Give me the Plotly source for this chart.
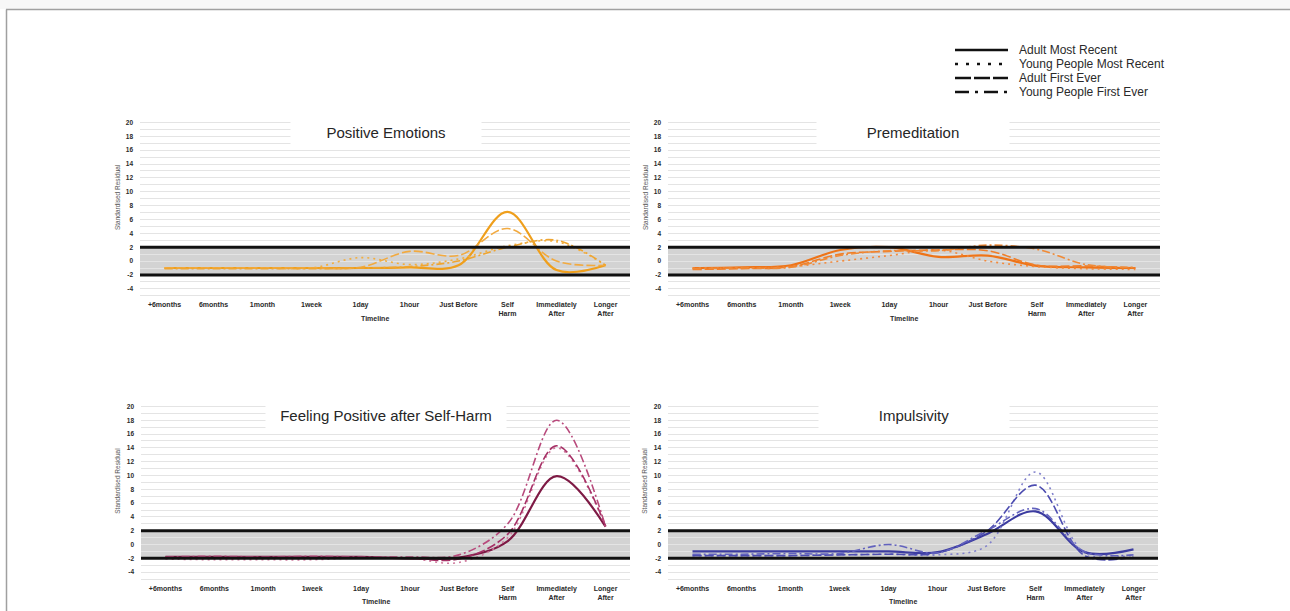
import plotly.graph_objects as go

W, H = 1290, 611

# ---------------- data ----------------
categories = ["+6months", "6months", "1month", "1week", "1day", "1hour",
              "Just Before", "Self<br>Harm", "Immediately<br>After", "Longer<br>After"]
series_names = ["Adult Most Recent", "Young People Most Recent",
                "Adult First Ever", "Young People First Ever"]

y_tick_vals = [-4, -2, 0, 2, 4, 6, 8, 10, 12, 14, 16, 18, 20]
y_tick_text = ["-4", "-2", "0", "2", "4", "6", "8", "10", "12", "14", "16", "18", "20"]

panel_titles = ["Positive Emotions", "Premeditation",
                "Feeling Positive after Self-Harm", "Impulsivity"]

# Positive Emotions
pe_adult_recent = [-1.0, -1.0, -1.0, -1.0, -1.0, -0.9, -0.6, 7.1, -1.3, -0.6]
pe_young_recent = [-1.0, -1.0, -1.0, -1.0, 0.5, -0.5, 0.3, 2.2, 2.8, -0.6]
pe_adult_first = [-1.0, -1.0, -1.0, -1.0, -0.9, 1.4, 0.8, 4.7, 0.0, -0.6]
pe_young_first = [-1.1, -1.1, -1.1, -1.1, -1.0, -0.8, 0.0, 2.0, 3.0, -0.6]

# Premeditation
pm_adult_recent = [-1.0, -0.9, -0.6, 1.6, 2.0, 0.6, 0.8, -0.7, -0.9, -1.0]
pm_young_recent = [-1.0, -1.0, -0.8, 0.0, 0.8, 1.6, 0.0, -0.8, -1.1, -1.2]
pm_adult_first = [-1.2, -1.1, -0.8, 1.0, 1.4, 1.6, 1.5, -0.6, -0.7, -1.0]
pm_young_first = [-1.1, -1.0, -0.9, 0.8, 1.5, 1.5, 2.3, 1.7, -0.5, -0.9]

# Feeling Positive after Self-Harm
fp_adult_recent = [-1.8, -1.8, -1.8, -1.8, -1.8, -2.0, -1.9, 0.5, 9.9, 2.6]
fp_young_recent = [-2.1, -2.2, -2.2, -2.2, -1.9, -2.0, -2.6, 1.0, 14.0, 2.6]
fp_adult_first = [-1.9, -1.8, -1.8, -1.8, -1.9, -2.0, -2.1, 1.5, 14.3, 2.7]
fp_young_first = [-1.8, -1.7, -1.8, -1.7, -1.8, -1.8, -1.5, 3.0, 18.0, 2.6]

# Impulsivity
im_adult_recent = [-1.0, -1.0, -1.0, -1.0, -1.0, -1.1, 1.5, 4.8, -1.1, -0.7]
im_young_recent = [-1.6, -1.6, -1.6, -1.5, -1.4, -1.5, -0.2, 10.5, -1.2, -1.5]
im_adult_first = [-1.6, -1.6, -1.6, -1.5, -1.4, -1.2, 1.9, 8.6, -1.6, -1.8]
im_young_first = [-1.4, -1.4, -1.3, -1.3, 0.0, -1.2, 2.0, 5.2, -1.0, -1.5]

panel_data = [
    [pe_adult_recent, pe_young_recent, pe_adult_first, pe_young_first],
    [pm_adult_recent, pm_young_recent, pm_adult_first, pm_young_first],
    [fp_adult_recent, fp_young_recent, fp_adult_first, fp_young_first],
    [im_adult_recent, im_young_recent, im_adult_first, im_young_first],
]

# ---------------- styling ----------------
panel_colors = [
    ["#EF9F1C", "#F3AE3E", "#F2AA40", "#EFA530"],
    ["#EE7418", "#F28A3C", "#F07E28", "#F08A36"],
    ["#7E1A45", "#D07A9E", "#A63066", "#B84A7C"],
    ["#3C3CA0", "#8080CC", "#4C4CB0", "#6262BE"],
]
dashes = ["solid", "2px,4px", "9px,3px", "8px,3px,2px,3px"]
widths = [2.2, 1.6, 1.6, 1.6]

def px_x(p):
    return p / W

def px_y(p):
    return 1 - p / H

# panel geometry in pixels: (left, right, top, bottom)
panels_px = [
    (140, 630, 119.0, 299.2),
    (668, 1160, 119.0, 299.2),
    (141, 630, 403.0, 582.5),
    (668, 1158, 403.0, 582.5),
]
title_boxes = [  # (center x, center y, width, height)
    (386, 132, 188, 30),
    (913, 132, 190, 30),
    (386, 415, 238, 30),
    (914, 415, 188, 30),
]
y_range = [-5.5, 20.5]

fig = go.Figure()
layout_axes = {}
shapes = []
annotations = []

for i in range(4):
    l, r, t, b = panels_px[i]
    xa = "x" if i == 0 else f"x{i+1}"
    ya = "y" if i == 0 else f"y{i+1}"
    xkey = "xaxis" if i == 0 else f"xaxis{i+1}"
    ykey = "yaxis" if i == 0 else f"yaxis{i+1}"
    layout_axes[xkey] = dict(
        domain=[px_x(l), px_x(r)], anchor=ya, range=[-0.5, 9.5],
        tickmode="array", tickvals=list(range(len(categories))), ticktext=categories,
        showgrid=False, zeroline=False, showline=False, ticks="",
        tickfont=dict(family="Liberation Sans", size=7, color="#2a2a2a", weight="bold"),
        ticklabelstandoff=0, fixedrange=True,
    )
    layout_axes[ykey] = dict(
        domain=[px_y(b), px_y(t)], anchor=xa, range=y_range,
        tickmode="array", tickvals=y_tick_vals, ticktext=y_tick_text,
        showgrid=True, gridcolor="#e4e4e4", gridwidth=1,
        minor=dict(dtick=1, tick0=0, showgrid=True, gridcolor="#e4e4e4", gridwidth=1),
        zeroline=False, showline=False, ticks="",
        tickfont=dict(family="Liberation Sans", size=6.5, color="#2a2a2a", weight="bold"),
        ticklabelstandoff=6, fixedrange=True,
    )
    # grey band between -2 and 2
    shapes.append(dict(type="rect", xref=xa, yref=ya, x0=-0.5, x1=9.5, y0=-2, y1=2,
                       fillcolor="#d3d3d3", line=dict(width=0), layer="below"))
    for yv in (-2, 2):
        shapes.append(dict(type="line", xref=xa, yref=ya, x0=-0.5, x1=9.5, y0=yv, y1=yv,
                           line=dict(color="#111111", width=3), layer="above"))
    # traces
    for s in range(4):
        fig.add_trace(go.Scatter(
            x=list(range(len(categories))), y=panel_data[i][s], xaxis=xa, yaxis=ya,
            mode="lines", name=series_names[s], showlegend=False,
            line=dict(color=panel_colors[i][s], width=widths[s], dash=dashes[s],
                      shape="spline", smoothing=1.0),
        ))
    # title with white box
    cx, cy, bw, bh = title_boxes[i]
    annotations.append(dict(
        text=panel_titles[i], xref="paper", yref="paper", x=px_x(cx), y=px_y(cy),
        xanchor="center", yanchor="middle", showarrow=False, width=bw, height=bh,
        bgcolor="white", font=dict(family="Liberation Sans", size=15, color="#262626"),
    ))
    # axis titles
    annotations.append(dict(
        text="Timeline", xref="paper", yref="paper", x=px_x((l + r) / 2 - 10),
        y=px_y(b + 19), xanchor="center", yanchor="middle", showarrow=False,
        font=dict(family="Liberation Sans", size=7, color="#2a2a2a", weight="bold"),
    ))
    annotations.append(dict(
        text="Standardised Residual", xref="paper", yref="paper", x=px_x(l - 23),
        y=px_y((t + b) / 2 - 12), xanchor="center", yanchor="middle", showarrow=False,
        textangle=-90, font=dict(family="Liberation Sans", size=6.5, color="#555555"),
    ))

# legend (drawn manually)
legend_rows_y = [50, 64, 78, 92]
legend_dashes = ["solid", "3px,8px", "16px,3px", "14px,6px,3px,6px"]
for k in range(4):
    yy = px_y(legend_rows_y[k])
    shapes.append(dict(type="line", xref="paper", yref="paper", x0=px_x(955), x1=px_x(1008),
                       y0=yy, y1=yy, line=dict(color="#111111", width=2.5, dash=legend_dashes[k])))
    annotations.append(dict(text=series_names[k], xref="paper", yref="paper", x=px_x(1017), y=yy,
                            xanchor="left", yanchor="middle", showarrow=False,
                            font=dict(family="Liberation Sans", size=12, color="#2a2a2a")))

# page frame
shapes.append(dict(type="rect", xref="paper", yref="paper", x0=0, x1=1, y0=px_y(9), y1=1,
                   fillcolor="#f7f7f7", line=dict(width=0)))
shapes.append(dict(type="rect", xref="paper", yref="paper", x0=px_x(1284), x1=1, y0=0, y1=px_y(11),
                   fillcolor="white", line=dict(width=0)))
shapes.append(dict(type="line", xref="paper", yref="paper", x0=px_x(6), x1=1, y0=px_y(9.5), y1=px_y(9.5),
                   line=dict(color="#a0a0a0", width=1.5)))
shapes.append(dict(type="line", xref="paper", yref="paper", x0=px_x(6.5), x1=px_x(6.5), y0=0, y1=px_y(9.5),
                   line=dict(color="#a0a0a0", width=1.5)))

fig.update_layout(
    width=W, height=H, autosize=False,
    margin=dict(l=0, r=0, t=0, b=0),
    paper_bgcolor="white", plot_bgcolor="rgba(0,0,0,0)",
    shapes=shapes, annotations=annotations, showlegend=False,
    **layout_axes,
)

fig.write_html("out.html", config={"displayModeBar": False})
